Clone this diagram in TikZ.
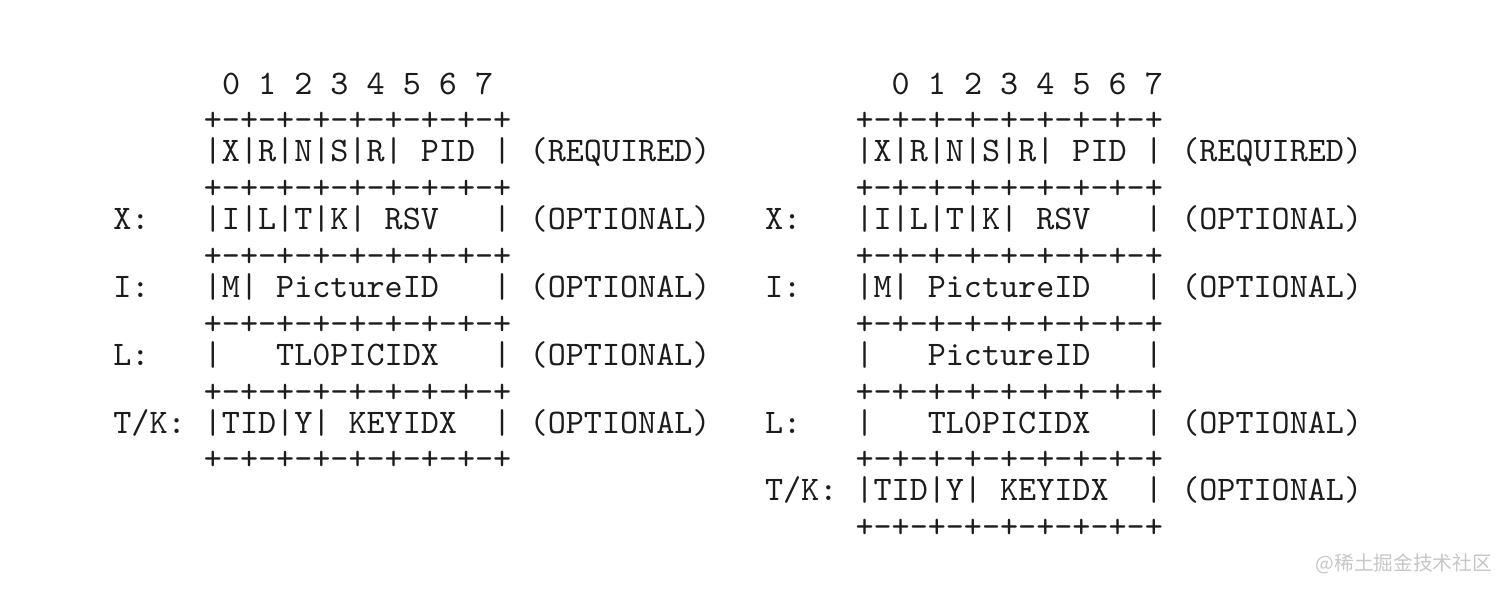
\documentclass[tikz,border=0pt]{standalone}
\usepackage{fontspec}
\newfontfamily\cjk{Noto Sans CJK SC}
\definecolor{tinta}{HTML}{1C1C1C}
\definecolor{marca}{HTML}{C6C6C6}
\tikzset{
  ascii/.style={anchor=base west, inner sep=0pt, text=tinta,
    font=\fontsize{9.8pt}{11pt}\selectfont\ttfamily},
}

\begin{document}
\begin{tikzpicture}[x=1.81mm, y=-3.39mm]
  \useasboundingbox (-11.27mm,9.4mm) rectangle (139.93mm,-49.7mm);
  % left header (cols 0..32)
  \node[ascii] (bitsL) at (6,0) {0~1~2~3~4~5~6~7};
  \foreach \r in {1,3,...,11}
    \node[ascii] (sepL\r) at (5,\r+0.09) {+-+-+-+-+-+-+-+-+};
  \node[ascii] (boxL2) at (5,2) {|X|R|N|S|R|~PID~|};
  \node[ascii] (tagL2) at (23,2) {(REQUIRED)};
  \node[ascii] (labL4) at (0,4) {X:};
  \node[ascii] (boxL4) at (5,4) {|I|L|T|K|~RSV~~~|};
  \node[ascii] (tagL4) at (23,4) {(OPTIONAL)};
  \node[ascii] (labL6) at (0,6) {I:};
  \node[ascii] (boxL6) at (5,6) {|M|~PictureID~~~|};
  \node[ascii] (tagL6) at (23,6) {(OPTIONAL)};
  \node[ascii] (labL8) at (0,8) {L:};
  \node[ascii] (boxL8) at (5,8) {|~~~TL0PICIDX~~~|};
  \node[ascii] (tagL8) at (23,8) {(OPTIONAL)};
  \node[ascii] (labL10) at (0,10) {T/K:};
  \node[ascii] (boxL10) at (5,10) {|TID|Y|~KEYIDX~~|};
  \node[ascii] (tagL10) at (23,10) {(OPTIONAL)};
  % right header, 15-bit picture id (cols 36..68)
  \node[ascii] (bitsR) at (43,0) {0~1~2~3~4~5~6~7};
  \foreach \r in {1,3,...,13}
    \node[ascii] (sepR\r) at (41,\r+0.09) {+-+-+-+-+-+-+-+-+};
  \node[ascii] (boxR2) at (41,2) {|X|R|N|S|R|~PID~|};
  \node[ascii] (tagR2) at (59,2) {(REQUIRED)};
  \node[ascii] (labR4) at (36,4) {X:};
  \node[ascii] (boxR4) at (41,4) {|I|L|T|K|~RSV~~~|};
  \node[ascii] (tagR4) at (59,4) {(OPTIONAL)};
  \node[ascii] (labR6) at (36,6) {I:};
  \node[ascii] (boxR6) at (41,6) {|M|~PictureID~~~|};
  \node[ascii] (tagR6) at (59,6) {(OPTIONAL)};
  \node[ascii] (boxR8) at (41,8) {|~~~PictureID~~~|};
  \node[ascii] (labR10) at (36,10) {L:};
  \node[ascii] (boxR10) at (41,10) {|~~~TL0PICIDX~~~|};
  \node[ascii] (tagR10) at (59,10) {(OPTIONAL)};
  \node[ascii] (labR12) at (36,12) {T/K:};
  \node[ascii] (boxR12) at (41,12) {|TID|Y|~KEYIDX~~|};
  \node[ascii] (tagR12) at (59,12) {(OPTIONAL)};
  % watermark
  \node[anchor=east, inner sep=0pt, text=marca, font=\cjk\fontsize{5.6pt}{6pt}\selectfont]
    (marca) at (138.0mm,-47.0mm) {@稀土掘金技术社区};
\end{tikzpicture}
\end{document}
